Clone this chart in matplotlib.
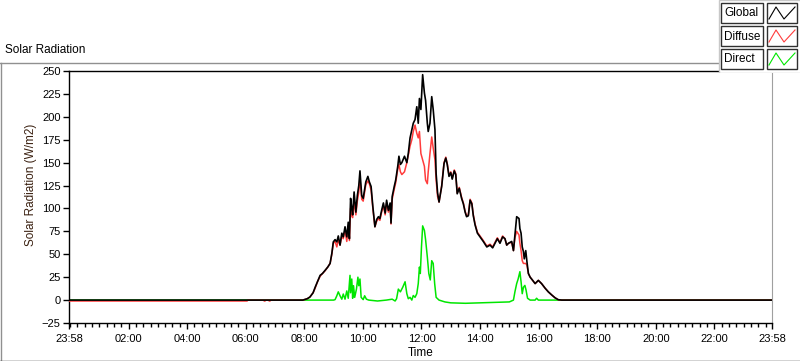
import matplotlib.pyplot as plt
from matplotlib.ticker import MultipleLocator
from matplotlib.patches import Rectangle
from matplotlib.lines import Line2D

plt.rcParams['font.family'] = ['Liberation Sans', 'DejaVu Sans']

# time in hours from midnight, x axis runs 23:58 -> 23:58
t_start = -2 / 60
t_end = 24 - 2 / 60

x_ticks = [t_start, 2, 4, 6, 8, 10, 12, 14, 16, 18, 20, 22, t_end]
x_labels = ["23:58", "02:00", "04:00", "06:00", "08:00", "10:00", "12:00",
            "14:00", "16:00", "18:00", "20:00", "22:00", "23:58"]
y_ticks = [-25, 0, 25, 50, 75, 100, 125, 150, 175, 200, 225, 250]

# daytime sample times (hours)
day_t = [8.0, 8.1, 8.19, 8.3, 8.37, 8.45, 8.54, 8.62, 8.71, 8.8,
         8.88, 8.94, 8.99, 9.05, 9.11, 9.16, 9.22, 9.28, 9.33, 9.39,
         9.45, 9.5, 9.54, 9.58, 9.62, 9.65, 9.7, 9.76, 9.81, 9.86,
         9.9, 9.96, 10.01, 10.1, 10.17, 10.22, 10.28, 10.34, 10.41, 10.47,
         10.53, 10.58, 10.64, 10.7, 10.76, 10.81, 10.87, 10.93, 10.96, 11.0,
         11.07, 11.12, 11.19, 11.23, 11.28, 11.33, 11.42, 11.5, 11.55, 11.61,
         11.67, 11.72, 11.78, 11.84, 11.89, 11.93, 11.98, 12.04, 12.1, 12.14,
         12.2, 12.23, 12.29, 12.35, 12.4, 12.46, 12.5, 12.55, 12.6, 12.69,
         12.77, 12.83, 12.88, 12.94, 13.0, 13.05, 13.12, 13.17, 13.22, 13.29,
         13.37, 13.43, 13.49, 13.54, 13.6, 13.66, 13.72, 13.77, 13.83, 13.91,
         14.0, 14.11, 14.23, 14.34, 14.43, 14.51, 14.59, 14.68, 14.77, 14.85,
         14.91, 14.97, 15.08, 15.14, 15.19, 15.25, 15.33, 15.36, 15.4, 15.44,
         15.48, 15.51, 15.56, 15.6, 15.65, 15.71, 15.76, 15.88, 15.99, 16.1,
         16.22, 16.33, 16.45, 16.56, 16.67, 16.79]

global_day = [0.5, 1.5, 3.3, 8, 14, 20, 27, 29, 32.5, 36,
              40, 51, 63.5, 66, 63.5, 70, 60, 73, 69, 80,
              69, 85, 67, 111, 100, 93, 118, 96, 114, 125,
              141, 114, 111, 129, 135, 129, 124, 102, 80, 88,
              91, 89, 98, 106, 95, 109, 98, 106, 84, 113,
              124, 131, 146, 157, 148, 150, 157, 150, 160, 177,
              186, 193, 197, 211, 193, 220, 208, 246, 226, 218,
              193, 184, 193, 222, 208, 186, 138, 117, 107, 124,
              149, 155, 148, 135, 139, 132, 141, 137, 116, 122,
              111, 105, 96, 91, 92, 109, 105, 92, 82, 73,
              69, 64, 58, 60, 57, 62, 67, 62, 69, 67,
              60, 62, 64, 54, 71, 91, 89, 78, 73, 58,
              53, 45, 54, 42, 29, 25, 23, 18, 21.5, 18,
              13, 9, 5.5, 2.5, 0.4, 0]

diffuse_day = [0.5, 1.5, 3.3, 8, 13, 20, 26, 29, 32, 36,
               40, 50, 62, 64, 58, 66, 60, 70, 67, 76,
               64, 80, 65, 100, 92, 90, 108, 93, 108, 118,
               132, 110, 108, 126, 130, 127, 120, 100, 80, 86,
               89, 87, 96, 103, 93, 106, 96, 103, 83, 110,
               121, 128, 143, 148, 140, 137, 140, 150, 158, 168,
               175, 184, 191, 182, 177, 184, 160, 153, 146, 131,
               127, 140, 160, 178, 166, 153, 131, 113, 107, 125,
               150, 156, 149, 136, 140, 133, 142, 138, 117, 123,
               112, 106, 97, 92, 93, 110, 106, 93, 83, 74,
               70, 65, 59, 61, 58, 63, 68, 63, 70, 67,
               60, 62, 63, 54, 68, 75, 71, 62, 54, 43,
               40, 40, 40, 38, 29, 25, 23, 18, 21.5, 18,
               13, 9, 5.5, 2.5, 0.4, 0]

# night part of the diffuse trace sits just under zero
diffuse_night_t = [t_start, 6.05, 6.07, 6.62, 6.63, 6.66, 6.67, 6.79, 6.8, 6.83, 6.84, 7.95]
diffuse_night_v = [-1, -1, 0, 0, -1, -1, 0, 0, -1, -1, 0, 0]

direct_t = [t_start, 8.0, 9.0, 9.05, 9.11, 9.16, 9.22, 9.28, 9.33, 9.39,
            9.45, 9.5, 9.56, 9.58, 9.62, 9.65, 9.68, 9.72, 9.78, 9.83,
            9.86, 9.9, 9.94, 10.01, 10.06, 10.12, 10.2, 10.5, 10.8, 11.0,
            11.1, 11.15, 11.21, 11.28, 11.36, 11.44, 11.5, 11.55, 11.61, 11.67,
            11.72, 11.78, 11.84, 11.89, 11.93, 11.96, 12.0, 12.04, 12.1, 12.14,
            12.2, 12.25, 12.3, 12.35, 12.4, 12.45, 12.5, 12.6, 12.8, 13.0,
            13.5, 14.0, 14.5, 15.0, 15.14, 15.19, 15.25, 15.3, 15.36, 15.4,
            15.44, 15.48, 15.53, 15.57, 15.62, 15.71, 15.88, 15.93, 15.99, 16.7,
            t_end]
direct_v = [0, 0, 0, 0.5, 4.7, 9, 4.7, 1, 6.6, 1,
            10, 2, 27, 8, 23, 2, 15.7, 3, 12, 25,
            15.7, 23, 3, 0.5, 4.7, 1, 0, -1, 0, 1,
            -1, 1.5, 12, 9, 14, 20, 7, 1.5, 3, 0,
            5, 3, 7, 18, 36, 29, 58, 81, 76, 66,
            47, 29, 22, 43, 40, 18, 3, 0, -2, -3,
            -3.5, -3, -2.5, -2, 0, 9, 18, 23, 31, 20,
            7, 14, 16, 11, 2, 0, 0, 2, 0, 0,
            0]

global_t = [t_start, 7.95] + day_t + [t_end]
global_v = [0, 0] + global_day + [0]
diffuse_t = diffuse_night_t + day_t + [t_end]
diffuse_v = diffuse_night_v + diffuse_day + [0]

series = [("Global", global_t, global_v, "#000000"),
          ("Diffuse", diffuse_t, diffuse_v, "#ff3c3c"),
          ("Direct", direct_t, direct_v, "#00e600")]

W, H = 800, 361
fig = plt.figure(figsize=(W / 100, H / 100), dpi=100)
fig.patch.set_facecolor("white")

ax = fig.add_axes([69 / W, 1 - 323 / H, 703 / W, (323 - 71) / H])
ax.plot(direct_t, direct_v, color="#00e600", lw=1.1, zorder=2)
ax.plot(diffuse_t, diffuse_v, color="#ff3c3c", lw=1.1, zorder=3)
ax.plot(global_t, global_v, color="black", lw=1.2, zorder=4)

ax.set_xlim(t_start, t_end)
ax.set_ylim(-25, 250)
ax.set_xticks(x_ticks)
ax.set_xticklabels(x_labels)
ax.xaxis.set_minor_locator(MultipleLocator(0.25))
ax.set_yticks(y_ticks)
ax.tick_params(axis="both", which="major", direction="out", length=4,
               width=1, labelsize=8, colors="black", pad=2)
ax.tick_params(axis="x", which="minor", direction="out", length=3, width=1)
ax.tick_params(axis="x", which="major", pad=4)

for side in ["left", "top", "bottom"]:
    ax.spines[side].set_color("black")
    ax.spines[side].set_linewidth(1.0)
ax.spines["right"].set_color("#a0a0a0")

ax.set_xlabel("Time", fontsize=8.5, labelpad=2)
ax.set_ylabel("Solar Radiation (W/m2)", fontsize=8.5, color="#3a2010")
ax.yaxis.set_label_coords(-0.045, 0.55)

# outer frame of the graph panel
frame = fig.add_axes([0, 0, 1, 1], zorder=-1)
frame.set_xlim(0, W)
frame.set_ylim(H, 0)
frame.axis("off")
frame.add_line(Line2D([0, 718], [62.5, 62.5], color="#909090", lw=1))
frame.add_line(Line2D([0.5, 0.5], [62.5, H], color="#909090", lw=1))
frame.add_line(Line2D([0, W], [360.5, 360.5], color="#202020", lw=1))
frame.text(5, 50, "Solar Radiation", fontsize=8.5, va="center", ha="left")

# legend panel, top right
leg = fig.add_axes([718 / W, 1 - 73 / H, 82 / W, 73 / H], zorder=5)
leg.set_xlim(0, 82)
leg.set_ylim(73, 0)
leg.axis("off")
leg.add_patch(Rectangle((0.5, 0), 82, 72.5, facecolor="white",
                        edgecolor="#c8c8c8", lw=1))
rows = [(3, 20), (26, 20), (49, 20)]
for (name, _, _, color), (y0, h) in zip(series, rows):
    leg.add_patch(Rectangle((3, y0), 42, h, facecolor="white",
                            edgecolor="#303030", lw=1))
    leg.text(6, y0 + h / 2 + 0.5, name, fontsize=8.5, va="center", ha="left")
    leg.add_patch(Rectangle((49, y0), 30, h, facecolor="white",
                            edgecolor="#303030", lw=1))
    xs = [51, 58, 66, 77]
    ys = [y0 + h - 4, y0 + 4, y0 + h - 4, y0 + 4]
    leg.add_line(Line2D(xs, ys, color=color, lw=0.8))

fig.savefig("out.png", dpi=100)
